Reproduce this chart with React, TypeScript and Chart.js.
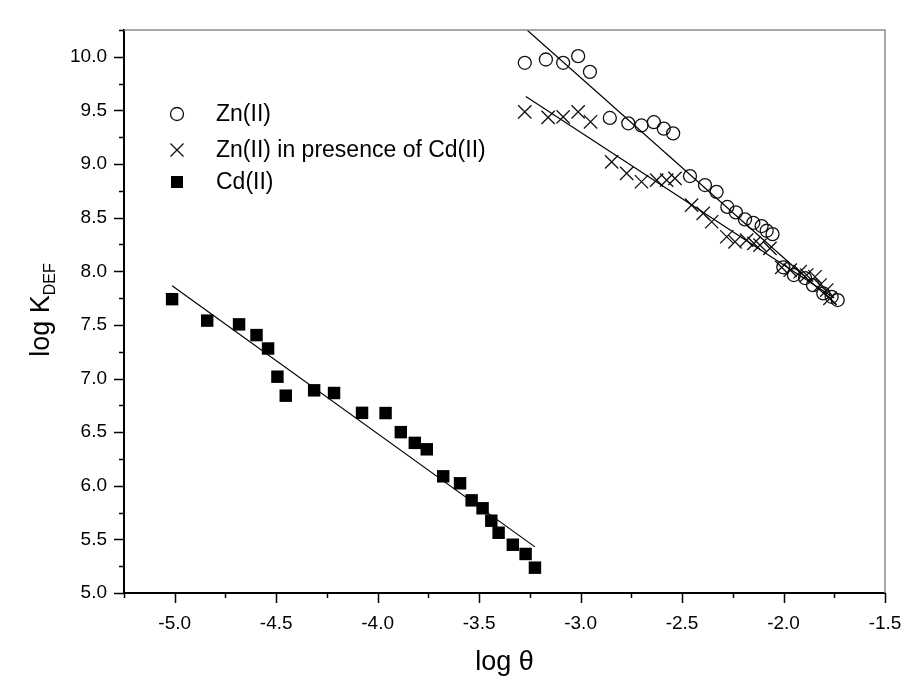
import React, { useEffect, useRef } from 'react';
import { Chart, registerables } from 'chart.js';

Chart.register(...registerables);

// ---- axis ticks ----
const xTicks = [-5.0, -4.5, -4.0, -3.5, -3.0, -2.5, -2.0, -1.5];
const yTicks = [5.0, 5.5, 6.0, 6.5, 7.0, 7.5, 8.0, 8.5, 9.0, 9.5, 10.0];
const xMin = -5.25;
const xMax = -1.5;
const yMin = 5.0;
const yMax = 10.25;

// ---- Zn(II) (open circles) ----
const znX = [-3.275, -3.171, -3.086, -3.012, -2.954, -2.856, -2.765, -2.7, -2.639, -2.59, -2.544, -2.461, -2.387, -2.33, -2.277, -2.235, -2.19, -2.149, -2.108, -2.083, -2.054, -2.001, -1.949, -1.894, -1.855, -1.804, -1.763, -1.733];
const znY = [9.944, 9.975, 9.944, 10.006, 9.86, 9.43, 9.38, 9.36, 9.39, 9.33, 9.286, 8.888, 8.804, 8.741, 8.6, 8.549, 8.484, 8.452, 8.422, 8.378, 8.347, 8.037, 7.965, 7.937, 7.871, 7.794, 7.762, 7.732];

// ---- Zn(II) in presence of Cd(II) (crosses) ----
const znCdX = [-3.275, -3.16, -3.086, -3.012, -2.951, -2.847, -2.773, -2.7, -2.625, -2.576, -2.535, -2.453, -2.396, -2.354, -2.28, -2.239, -2.182, -2.146, -2.116, -2.067, -2.009, -1.967, -1.918, -1.886, -1.845, -1.82, -1.787, -1.771];
const znCdY = [9.487, 9.435, 9.44, 9.487, 9.394, 9.02, 8.913, 8.835, 8.85, 8.85, 8.866, 8.617, 8.54, 8.462, 8.322, 8.275, 8.291, 8.26, 8.244, 8.214, 8.037, 8.011, 7.996, 7.965, 7.949, 7.872, 7.825, 7.748];

// ---- Cd(II) (filled squares) ----
const cdX = [-5.013, -4.84, -4.683, -4.597, -4.54, -4.494, -4.453, -4.313, -4.215, -4.077, -3.961, -3.886, -3.817, -3.758, -3.677, -3.594, -3.537, -3.483, -3.44, -3.404, -3.334, -3.271, -3.225];
const cdY = [7.74, 7.54, 7.505, 7.405, 7.28, 7.017, 6.84, 6.89, 6.865, 6.68, 6.678, 6.5, 6.4, 6.34, 6.088, 6.023, 5.864, 5.79, 5.674, 5.562, 5.45, 5.364, 5.236];

// ---- linear fits ----
const znFitX = [-3.264, -1.74];
const znFitY = [10.25, 7.69];
const znCdFitX = [-3.27, -1.75];
const znCdFitY = [9.63, 7.75];
const cdFitX = [-5.013, -3.225];
const cdFitY = [7.865, 5.43];

// ---- texts ----
const legendLabels = ['Zn(II)', 'Zn(II) in presence of Cd(II)', 'Cd(II)'];
const xTitle = 'log \u03B8';
const yTitleMain = 'log K';
const yTitleSub = 'DEF';

const FONT = '"Liberation Sans", Arial, Helvetica, sans-serif';

const pts = (xs: number[], ys: number[]) => xs.map((x, i) => ({ x, y: ys[i] }));

function drawMarker(ctx: CanvasRenderingContext2D, kind: string, x: number, y: number) {
  ctx.save();
  ctx.strokeStyle = '#111';
  ctx.fillStyle = '#000';
  ctx.lineWidth = 1.3;
  if (kind === 'circle') {
    ctx.beginPath();
    ctx.arc(x, y, 6.5, 0, Math.PI * 2);
    ctx.stroke();
  } else if (kind === 'cross') {
    const d = 6.5;
    ctx.beginPath();
    ctx.moveTo(x - d, y - d);
    ctx.lineTo(x + d, y + d);
    ctx.moveTo(x - d, y + d);
    ctx.lineTo(x + d, y - d);
    ctx.stroke();
  } else {
    ctx.fillRect(x - 6, y - 6, 12, 12);
  }
  ctx.restore();
}

const decorPlugin = {
  id: 'decor',
  afterDraw(chart: any) {
    const ctx: CanvasRenderingContext2D = chart.ctx;
    const { left, right, top, bottom } = chart.chartArea;
    const xs = chart.scales.x;
    const ys = chart.scales.y;
    ctx.save();
    // top/right frame
    ctx.strokeStyle = '#8a8a8a';
    ctx.lineWidth = 1.5;
    ctx.beginPath();
    ctx.moveTo(left, top);
    ctx.lineTo(right, top);
    ctx.lineTo(right, bottom);
    ctx.stroke();
    // tick marks
    ctx.strokeStyle = '#000';
    ctx.lineWidth = 1.5;
    ctx.beginPath();
    for (let i = 0; i <= Math.round((xMax - xMin) / 0.25); i++) {
      const v = xMin + i * 0.25;
      const major = Math.abs(v * 2 - Math.round(v * 2)) < 1e-6;
      const px = Math.round(xs.getPixelForValue(v)) + 0.5;
      ctx.moveTo(px, bottom);
      ctx.lineTo(px, bottom + (major ? 10 : 5));
    }
    for (let i = 0; i <= Math.round((yMax - yMin) / 0.25); i++) {
      const v = yMin + i * 0.25;
      const major = Math.abs(v * 2 - Math.round(v * 2)) < 1e-6;
      const py = Math.round(ys.getPixelForValue(v)) + 0.5;
      ctx.moveTo(left, py);
      ctx.lineTo(left - (major ? 10 : 5), py);
    }
    ctx.stroke();

    // x title
    ctx.fillStyle = '#000';
    ctx.font = `27px ${FONT}`;
    ctx.textAlign = 'center';
    ctx.textBaseline = 'middle';
    ctx.fillText(xTitle, (left + right) / 2, 663);

    // y title (rotated, with subscript)
    const mainFont = `27px ${FONT}`;
    const subFont = `16px ${FONT}`;
    ctx.font = mainFont;
    const wMain = ctx.measureText(yTitleMain).width;
    ctx.font = subFont;
    const wSub = ctx.measureText(yTitleSub).width;
    const total = wMain + wSub;
    ctx.save();
    ctx.translate(40, 310);
    ctx.rotate(-Math.PI / 2);
    ctx.textAlign = 'left';
    ctx.textBaseline = 'alphabetic';
    ctx.font = mainFont;
    ctx.fillText(yTitleMain, -total / 2, 9);
    ctx.font = subFont;
    ctx.fillText(yTitleSub, -total / 2 + wMain, 15);
    ctx.restore();

    // legend
    const kinds = ['circle', 'cross', 'square'];
    const rows = [114, 150, 182];
    ctx.font = `23px ${FONT}`;
    ctx.textAlign = 'left';
    ctx.textBaseline = 'middle';
    legendLabels.forEach((lab, i) => {
      drawMarker(ctx, kinds[i], 177, rows[i]);
      ctx.fillStyle = '#000';
      ctx.fillText(lab, 216, rows[i] + 1);
    });
    ctx.restore();
  },
};

export default function App() {
  const ref = useRef<HTMLCanvasElement | null>(null);
  useEffect(() => {
    if (!ref.current) return;
    Chart.defaults.font.family = FONT;
    const fitStyle = {
      showLine: true,
      borderColor: '#000',
      borderWidth: 1.2,
      pointRadius: 0,
      pointHoverRadius: 0,
      fill: false,
    };
    const chart = new Chart(ref.current, {
      type: 'scatter',
      data: {
        datasets: [
          { label: 'Zn fit', data: pts(znFitX, znFitY), ...fitStyle },
          { label: 'ZnCd fit', data: pts(znCdFitX, znCdFitY), ...fitStyle },
          { label: 'Cd fit', data: pts(cdFitX, cdFitY), ...fitStyle },
          {
            label: legendLabels[0],
            data: pts(znX, znY),
            pointStyle: 'circle',
            pointRadius: 6.5,
            borderColor: '#111',
            backgroundColor: 'rgba(0,0,0,0)',
            borderWidth: 1.3,
          },
          {
            label: legendLabels[1],
            data: pts(znCdX, znCdY),
            pointStyle: 'crossRot',
            pointRadius: 9.4,
            borderColor: '#111',
            borderWidth: 1.3,
          },
          {
            label: legendLabels[2],
            data: pts(cdX, cdY),
            pointStyle: 'rect',
            pointRadius: 8.8,
            borderColor: '#000',
            backgroundColor: '#000',
            borderWidth: 0,
          },
        ],
      } as any,
      options: {
        animation: false,
        responsive: true,
        maintainAspectRatio: false,
        layout: { padding: { top: 30, right: 24, left: 0, bottom: 0 } },
        plugins: { legend: { display: false }, title: { display: false }, tooltip: { enabled: false } },
        scales: {
          x: {
            type: 'linear',
            min: xMin,
            max: xMax,
            grid: { display: false, drawTicks: false },
            border: { display: true, color: '#000', width: 2 },
            afterBuildTicks: (s: any) => {
              s.ticks = xTicks.map((v) => ({ value: v }));
            },
            afterFit: (s: any) => {
              s.height = 88;
              s.paddingLeft = 0;
              s.paddingRight = 0;
            },
            ticks: {
              color: '#000',
              font: { size: 19 },
              padding: 19,
              maxRotation: 0,
              callback: (v: any) => Number(v).toFixed(1),
            },
          },
          y: {
            type: 'linear',
            min: yMin,
            max: yMax,
            grid: { display: false, drawTicks: false },
            border: { display: true, color: '#000', width: 2 },
            afterBuildTicks: (s: any) => {
              s.ticks = yTicks.map((v) => ({ value: v }));
            },
            afterFit: (s: any) => {
              s.width = 124;
              s.paddingTop = 0;
              s.paddingBottom = 0;
            },
            ticks: {
              color: '#000',
              font: { size: 19 },
              padding: 17,
              callback: (v: any) => Number(v).toFixed(1),
            },
          },
        },
      } as any,
      plugins: [decorPlugin],
    });
    return () => chart.destroy();
  }, []);
  return (
    <div style={{ position: 'absolute', left: 0, top: 0, width: 909, height: 681, background: '#fff' }}>
      <canvas ref={ref} />
    </div>
  );
}
